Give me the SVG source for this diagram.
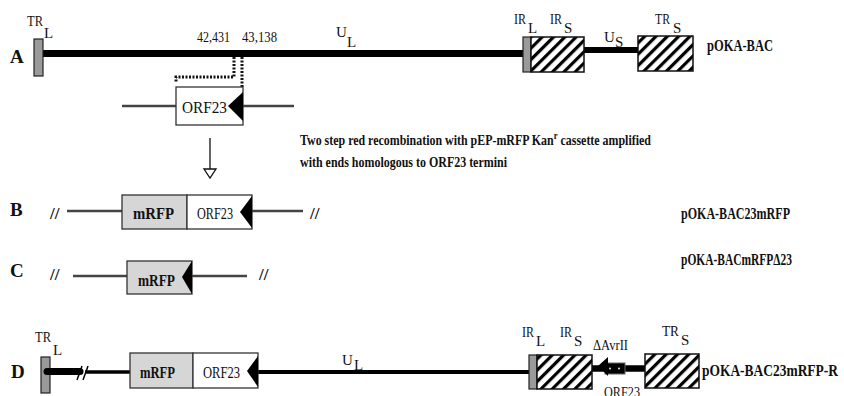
<svg xmlns="http://www.w3.org/2000/svg" width="844" height="396" viewBox="0 0 844 396">
<style>
text{font-family:"Liberation Serif","Times New Roman",serif;fill:#111}
.lbl{font-size:19px;font-weight:bold}
.seg{font-size:15px}
.nm{font-size:16px;font-weight:bold}
.box{font-size:16px}
.bb{font-size:16px;font-weight:bold}
.note{font-size:15px;font-weight:bold}
.sl{font-size:17px;font-weight:bold}
.term{fill:#9a9a9a;stroke:#222;stroke-width:1.2}
.hatch{fill:url(#hatch);stroke:#111;stroke-width:1.5}
.thin{stroke:#444;stroke-width:2.5;fill:none}
.gr{fill:#d6d6d6;stroke:#333;stroke-width:1.3}
.wh{fill:#fff;stroke:#333;stroke-width:1.3}
.tri{fill:#000}
</style>
<defs>
<pattern id="hatch" patternUnits="userSpaceOnUse" width="8" height="8" patternTransform="rotate(45)">
<rect x="0" y="0" width="8" height="8" fill="#fff"/>
<rect x="0" y="0" width="3.2" height="8" fill="#000"/>
</pattern>
</defs>

<!-- Row labels -->
<text class="lbl" x="10" y="63">A</text>
<text class="lbl" x="10" y="216">B</text>
<text class="lbl" x="10" y="277">C</text>
<text class="lbl" x="11" y="378">D</text>

<g id="connectors">
<line x1="43" y1="53.5" x2="523" y2="53.5" stroke="#000" stroke-width="7"/>
<line x1="584" y1="50" x2="638" y2="50" stroke="#000" stroke-width="6"/>
<polyline points="234,57 234,77 176,77 176,82" fill="none" stroke="#111" stroke-width="3" stroke-dasharray="2,1.5"/>
<line x1="242" y1="57" x2="242" y2="87" stroke="#111" stroke-width="3" stroke-dasharray="2,1.5"/>
<line class="thin" x1="122" y1="106" x2="176" y2="106"/>
<line class="thin" x1="243" y1="106" x2="294" y2="106"/>
<line x1="210" y1="138" x2="210" y2="169" stroke="#111" stroke-width="1.3"/>
<polygon points="204,169 216,169 210,178" fill="#fff" stroke="#111" stroke-width="1.3"/>
<line class="thin" x1="67" y1="211" x2="122" y2="211"/>
<line class="thin" x1="252" y1="211" x2="303" y2="211"/>
<line class="thin" x1="73" y1="276" x2="127" y2="276"/>
<line class="thin" x1="192" y1="276" x2="247" y2="276"/>
<line x1="47" y1="371.5" x2="80" y2="371.5" stroke="#000" stroke-width="7" stroke-linecap="round"/>
<line x1="85" y1="372" x2="130" y2="372" stroke="#000" stroke-width="3.5"/>
<line x1="77" y1="380" x2="82" y2="366" stroke="#000" stroke-width="1.5"/>
<line x1="83" y1="380" x2="88" y2="366" stroke="#000" stroke-width="1.5"/>
<line x1="258" y1="372" x2="530" y2="372" stroke="#000" stroke-width="4"/>
<line x1="592" y1="368.5" x2="645" y2="368.5" stroke="#000" stroke-width="6.5"/>
</g>

<g id="A-TRL">
<rect class="term" x="34" y="39" width="9" height="37"/>
<text class="seg" x="27" y="26" textLength="16" lengthAdjust="spacingAndGlyphs">TR</text><text class="seg" x="44" y="38">L</text>
</g>
<g id="A-UL">
<text class="seg" x="336" y="37">U</text><text class="seg" x="347" y="47">L</text>
</g>
<g id="A-coords">
<text class="seg" x="197" y="42" textLength="33" lengthAdjust="spacingAndGlyphs">42,431</text>
<text class="seg" x="242" y="42" textLength="35" lengthAdjust="spacingAndGlyphs">43,138</text>
</g>
<g id="A-IRL">
<rect class="term" x="523" y="37" width="8" height="35"/>
<text class="seg" x="514" y="24" textLength="12" lengthAdjust="spacingAndGlyphs">IR</text><text class="seg" x="528" y="33">L</text>
</g>
<g id="A-IRS">
<rect class="hatch" x="531" y="37" width="53" height="35"/>
<text class="seg" x="550" y="24" textLength="12" lengthAdjust="spacingAndGlyphs">IR</text><text class="seg" x="564" y="33">S</text>
</g>
<g id="A-US">
<text class="seg" x="604" y="42">U</text><text class="seg" x="615" y="47">S</text>
</g>
<g id="A-TRS">
<rect class="hatch" x="638" y="36" width="55" height="35"/>
<text class="seg" x="655" y="24" textLength="15" lengthAdjust="spacingAndGlyphs">TR</text><text class="seg" x="673" y="33">S</text>
</g>
<g id="A-name"><text class="nm" x="707" y="51" textLength="66" lengthAdjust="spacingAndGlyphs">pOKA-BAC</text></g>

<g id="A-ORF23">
<rect class="wh" x="176" y="87" width="67" height="38"/>
<polygon class="tri" points="243,92 228,106 243,121"/>
<text class="box" x="182" y="113" style="font-size:17px" textLength="45" lengthAdjust="spacingAndGlyphs">ORF23</text>
</g>

<g id="note">
<text class="note" transform="translate(300,145) scale(0.795,1)">Two step red recombination with pEP-mRFP Kan<tspan dy="-6" style="font-size:11px">r</tspan><tspan dy="6"> cassette amplified</tspan></text>
<text class="note" x="300" y="167" textLength="207" lengthAdjust="spacingAndGlyphs">with ends homologous to ORF23 termini</text>
</g>

<g id="B-construct">
<text class="sl" x="50" y="219">//</text>
<rect class="gr" x="122" y="195" width="65" height="34"/>
<rect class="wh" x="187" y="195" width="65" height="34"/>
<polygon class="tri" points="252,196 240,212 252,228"/>
<text class="bb" x="133" y="219" textLength="41" lengthAdjust="spacingAndGlyphs">mRFP</text>
<text class="box" x="197" y="219" textLength="36" lengthAdjust="spacingAndGlyphs">ORF23</text>
<text class="sl" x="310" y="219">//</text>
</g>
<g id="B-name"><text class="nm" x="681" y="219" textLength="109" lengthAdjust="spacingAndGlyphs">pOKA-BAC23mRFP</text></g>

<g id="C-construct">
<text class="sl" x="50" y="280">//</text>
<rect class="gr" x="127" y="261" width="65" height="33"/>
<polygon class="tri" points="192,261 182,277 192,294"/>
<text class="bb" x="138" y="286" textLength="37" lengthAdjust="spacingAndGlyphs">mRFP</text>
<text class="sl" x="259" y="280">//</text>
</g>
<g id="C-name"><text class="nm" x="681" y="265" textLength="111" lengthAdjust="spacingAndGlyphs">pOKA-BACmRFPΔ23</text></g>

<g id="D-TRL">
<rect class="term" x="41" y="357" width="9" height="36"/>
<line x1="47" y1="371.5" x2="52" y2="371.5" stroke="#000" stroke-width="7" stroke-linecap="round"/>
<text class="seg" x="35" y="342" textLength="16" lengthAdjust="spacingAndGlyphs">TR</text><text class="seg" x="53" y="355">L</text>
</g>
<g id="D-construct">
<rect class="gr" x="130" y="353" width="63" height="35"/>
<rect class="wh" x="193" y="353" width="65" height="35"/>
<polygon class="tri" points="258,356 247,371 258,387"/>
<text class="bb" x="140" y="378" textLength="35" lengthAdjust="spacingAndGlyphs">mRFP</text>
<text class="box" x="203" y="378" textLength="37" lengthAdjust="spacingAndGlyphs">ORF23</text>
</g>
<g id="D-UL">
<text class="seg" x="342" y="365">U</text><text class="seg" x="354" y="370">L</text>
</g>
<g id="D-IRL">
<rect class="term" x="529" y="355" width="8" height="34"/>
<text class="seg" x="522" y="337" textLength="12" lengthAdjust="spacingAndGlyphs">IR</text><text class="seg" x="536" y="346">L</text>
</g>
<g id="D-IRS">
<rect class="hatch" x="537" y="355" width="55" height="34"/>
<text class="seg" x="560" y="337" textLength="12" lengthAdjust="spacingAndGlyphs">IR</text><text class="seg" x="574" y="346">S</text>
</g>
<g id="D-ORF23">
<rect x="605" y="363" width="20" height="11" fill="#000" stroke="#666" stroke-width="1"/>
<circle cx="610" cy="368.5" r="0.9" fill="#fff"/>
<circle cx="619" cy="368.5" r="0.9" fill="#fff"/>
<polygon class="tri" points="598,366 608,357 608,376"/>
<text class="seg" x="593" y="350" textLength="35" lengthAdjust="spacingAndGlyphs">ΔAvrII</text>
<text class="seg" x="604" y="397" textLength="36" lengthAdjust="spacingAndGlyphs">ORF23</text>
</g>
<g id="D-TRS">
<rect class="hatch" x="645" y="354" width="54" height="34"/>
<text class="seg" x="662" y="336" textLength="17" lengthAdjust="spacingAndGlyphs">TR</text><text class="seg" x="681" y="345">S</text>
</g>
<g id="D-name"><text class="nm" x="702" y="376" textLength="136" lengthAdjust="spacingAndGlyphs">pOKA-BAC23mRFP-R</text></g>
</svg>
